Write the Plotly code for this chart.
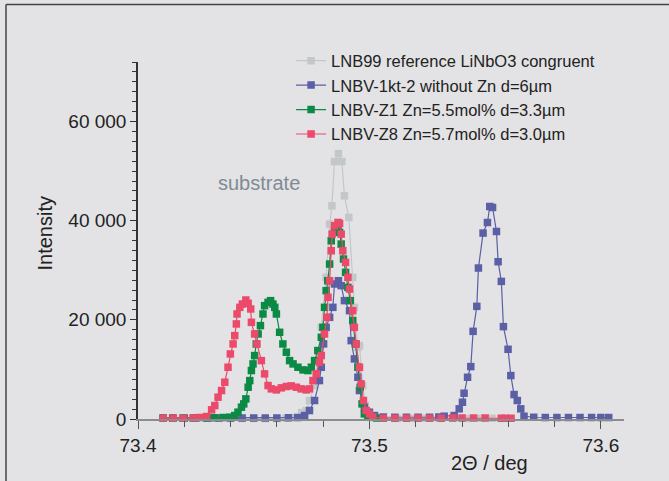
import plotly.graph_objects as go

# ---------------- data (2Theta in deg, intensity in counts) ----------------
gray_x = [73.4400, 73.4450, 73.4500, 73.4550, 73.4600, 73.4640, 73.4681, 73.4707, 73.4727,
          73.4741, 73.4763, 73.4792, 73.4813, 73.4828, 73.4838, 73.4849, 73.4866, 73.4881,
          73.4892, 73.4911, 73.4928, 73.4935, 73.4950, 73.4957, 73.4971, 73.4983, 73.5000,
          73.5060, 73.5120, 73.5180, 73.5240, 73.5300, 73.5360, 73.5420, 73.5480, 73.5530,
          73.5570]
gray_y = [100, 100, 120, 100, 120, 150, 300, 1300, 1710,
          3730, 6750, 18490, 28560, 39310, 43000, 51920, 53530, 51920,
          45010, 40640, 28560, 22520, 14460, 14800, 6750, 2720, 700,
          150, 120, 120, 150, 120, 150, 120, 150, 150,
          120]

blue_x = [73.4109, 73.4150, 73.4200, 73.4250, 73.4300, 73.4350, 73.4400, 73.4450, 73.4500,
          73.4550, 73.4600, 73.4650, 73.4690, 73.4720, 73.4741, 73.4763, 73.4784, 73.4792,
          73.4802, 73.4813, 73.4828, 73.4842, 73.4849, 73.4866, 73.4878, 73.4892, 73.4914,
          73.4921, 73.4935, 73.4950, 73.4957, 73.4978, 73.5000, 73.5022, 73.5060, 73.5110,
          73.5160, 73.5210, 73.5260, 73.5300, 73.5323, 73.5366, 73.5388, 73.5402, 73.5409,
          73.5424, 73.5438, 73.5448, 73.5464, 73.5471, 73.5491, 73.5510, 73.5520, 73.5532,
          73.5549, 73.5556, 73.5570, 73.5579, 73.5599, 73.5611, 73.5625, 73.5639, 73.5654,
          73.5668, 73.5710, 73.5760, 73.5810, 73.5860, 73.5910, 73.5960, 73.6000, 73.6034]
blue_y = [200, 200, 200, 200, 200, 200, 200, 200, 200,
          200, 200, 250, 300, 700, 1710, 3730, 7750, 10430,
          15150, 18490, 20500, 22520, 27230, 27890, 26890, 23870, 21850,
          15810, 12120, 8420, 5740, 2380, 1370, 700, 400, 350,
          350, 350, 350, 400, 560, 700, 2050, 3380, 5200,
          8420, 10570, 17680, 22720, 30450, 37500, 39630, 42860, 42660,
          37820, 31720, 27750, 18630, 14060, 8760, 4930, 3730, 2050,
          560, 350, 300, 300, 300, 300, 300, 300, 300]

green_x = [73.4109, 73.4150, 73.4195, 73.4240, 73.4296, 73.4330, 73.4368, 73.4397, 73.4418,
           73.4432, 73.4447, 73.4457, 73.4466, 73.4476, 73.4483, 73.4490, 73.4497, 73.4504,
           73.4511, 73.4519, 73.4529, 73.4540, 73.4547, 73.4562, 73.4573, 73.4583, 73.4591,
           73.4598, 73.4612, 73.4626, 73.4641, 73.4655, 73.4670, 73.4691, 73.4713, 73.4734,
           73.4749, 73.4763, 73.4777, 73.4792, 73.4799, 73.4806, 73.4813, 73.4820, 73.4828,
           73.4835, 73.4849, 73.4864, 73.4871, 73.4878, 73.4888, 73.4897, 73.4907, 73.4917,
           73.4928, 73.4940, 73.4950, 73.4960, 73.4968, 73.4978, 73.4993, 73.5030]
green_y = [170, 170, 170, 200, 230, 250, 300, 370, 700,
           1380, 2380, 3050, 4060, 6410, 7750, 9770, 11110, 12790,
           15140, 17150, 18830, 21180, 22860, 23530, 23870, 23190, 22520,
           21180, 17490, 15140, 13460, 11780, 11110, 10440, 9900, 9770,
           10440, 11780, 13800, 16480, 18490, 22520, 25880, 27890, 31250,
           35950, 37960, 38300, 37630, 35280, 32260, 29570, 26550, 23870,
           19840, 15140, 10440, 6410, 3050, 1040, 370, 200]

red_x = [73.4109, 73.4152, 73.4195, 73.4238, 73.4267, 73.4296, 73.4318, 73.4332, 73.4346,
         73.4361, 73.4375, 73.4389, 73.4399, 73.4411, 73.4418, 73.4425, 73.4428, 73.4440,
         73.4451, 73.4466, 73.4476, 73.4487, 73.4490, 73.4504, 73.4514, 73.4533, 73.4547,
         73.4562, 73.4576, 73.4598, 73.4619, 73.4641, 73.4662, 73.4684, 73.4705, 73.4727,
         73.4741, 73.4756, 73.4770, 73.4784, 73.4792, 73.4806, 73.4816, 73.4821, 73.4828,
         73.4835, 73.4839, 73.4849, 73.4864, 73.4871, 73.4878, 73.4885, 73.4897, 73.4907,
         73.4914, 73.4928, 73.4935, 73.4943, 73.4957, 73.4964, 73.4974, 73.4986, 73.5000,
         73.5014, 73.5060, 73.5110, 73.5160, 73.5210, 73.5260, 73.5310, 73.5360, 73.5400,
         73.5450, 73.5500, 73.5570, 73.5590, 73.5612]
red_y = [170, 170, 150, 200, 300, 500, 1850, 2720, 4400,
         5740, 7420, 10440, 13120, 15140, 16820, 19170, 21180, 22520,
         23190, 24000, 23330, 22190, 19500, 17150, 15140, 11780, 9100,
         6750, 6080, 5870, 6280, 6550, 6680, 6410, 6080, 5870,
         6080, 7750, 9100, 11440, 12790, 17150, 20510, 24540, 27890,
         33930, 37290, 38970, 39640, 39440, 37290, 33930, 31580, 28560,
         26210, 21850, 18490, 15140, 10440, 7080, 3730, 1710, 1040,
         370, 150, 150, 150, 150, 150, 150, 200, 200,
         200, 200, 150, 150, 150]

series_names = ["LNB99 reference LiNbO3 congruent",
                "LNBV-1kt-2 without Zn d=6µm",
                "LNBV-Z1 Zn=5.5mol% d=3.3µm",
                "LNBV-Z8 Zn=5.7mol% d=3.0µm"]
series_colors = ["#c3c7ca", "#5a5fa6", "#0b8a46", "#ec4a6a"]

y_tickvals = [0, 20000, 40000, 60000]
y_ticktext = ["0", "20 000", "40 000", "60 000"]
x_tickvals = [73.4, 73.5, 73.6]
x_ticktext = ["73.4", "73.5", "73.6"]

# ---------------- figure ----------------
FONT = "Liberation Sans, Arial, sans-serif"
BG = "#e3e3e5"

fig = go.Figure()
for xs, ys, name, col in zip([gray_x, blue_x, green_x, red_x],
                             [gray_y, blue_y, green_y, red_y],
                             series_names, series_colors):
    fig.add_trace(go.Scatter(
        x=xs, y=ys, name=name, mode="lines+markers",
        line=dict(color=col, width=1.2),
        marker=dict(symbol="square", size=7.5, color=col, line=dict(width=0)),
        cliponaxis=False,
    ))

fig.update_layout(
    width=669, height=481,
    margin=dict(l=138, r=45, t=62, b=62),
    paper_bgcolor=BG, plot_bgcolor=BG,
    font=dict(family=FONT, color="#222222", size=19),
    showlegend=True,
    legend=dict(x=0.315, y=1.052, xanchor="left", yanchor="top",
                bgcolor="rgba(0,0,0,0)", borderwidth=0,
                font=dict(family=FONT, size=16.5, color="#222222"),
                tracegroupgap=0),
    xaxis=dict(range=[73.4, 73.61], showgrid=False, zeroline=False,
               showline=True, linecolor="#8c8c8c", linewidth=1.5,
               tickmode="array", tickvals=x_tickvals, ticktext=x_ticktext,
               ticks="outside", ticklen=8, tickwidth=1, tickcolor="#555555",
               tickfont=dict(family=FONT, size=19, color="#222222"),
               minor=dict(tickmode="linear", tick0=73.4, dtick=0.02,
                          ticks="outside", ticklen=6, tickwidth=1,
                          tickcolor="#555555", showgrid=False)),
    yaxis=dict(range=[0, 72000], showgrid=False, zeroline=False,
               showline=True, linecolor="#333333", linewidth=1.5,
               tickmode="array", tickvals=y_tickvals, ticktext=y_ticktext,
               ticks="outside", ticklen=6, tickwidth=1, tickcolor="#333333",
               tickfont=dict(family=FONT, size=19, color="#222222"),
               minor=dict(tickmode="linear", tick0=0, dtick=2000,
                          ticks="outside", ticklen=4, tickwidth=1,
                          tickcolor="#333333", showgrid=False)),
)

# axis titles and label
fig.add_annotation(text="Intensity", xref="paper", yref="paper",
                   x=-0.191, y=0.52, textangle=-90, showarrow=False,
                   xanchor="center", yanchor="middle",
                   font=dict(family=FONT, size=20, color="#222222"))
fig.add_annotation(text="2Θ / deg", xref="paper", yref="paper",
                   x=0.724, y=-0.122, showarrow=False,
                   xanchor="center", yanchor="middle",
                   font=dict(family=FONT, size=20, color="#222222"))
fig.add_annotation(text="substrate", xref="paper", yref="paper",
                   x=(258.5 - 138) / 486, y=(418.5 - 182) / 357, showarrow=False,
                   xanchor="center", yanchor="middle",
                   font=dict(family=FONT, size=20, color="#7f8b94"))

# outer frame (top and left edges visible)
fig.add_shape(type="line", xref="paper", yref="paper",
              x0=(6 - 138) / 486, x1=1.2, y0=(418.5 - 4) / 357, y1=(418.5 - 4) / 357,
              line=dict(color="#444444", width=1.5))
fig.add_shape(type="line", xref="paper", yref="paper",
              x0=(6 - 138) / 486, x1=(6 - 138) / 486, y0=(418.5 - 4) / 357, y1=-0.3,
              line=dict(color="#444444", width=1.5))

fig.write_html("out.html")
